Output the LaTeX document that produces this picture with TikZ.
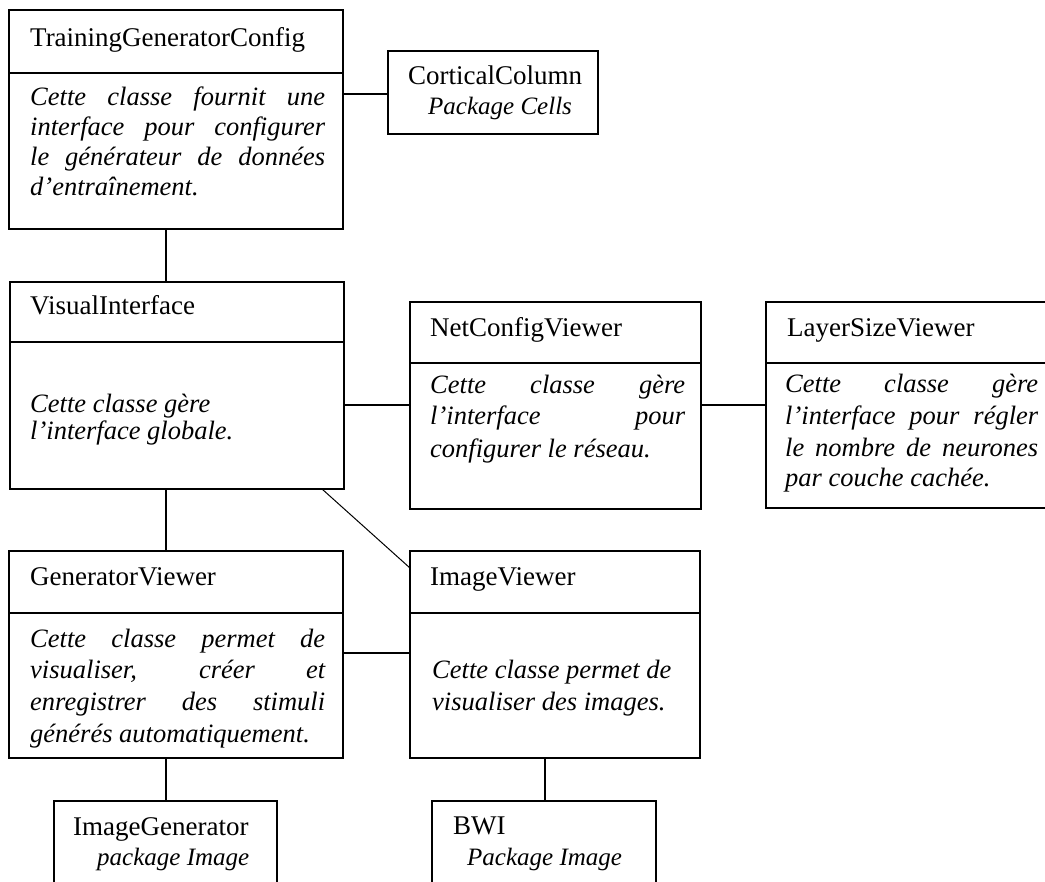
\documentclass[tikz,border=0pt]{standalone}
\usepackage{fontspec}
\setmainfont{Liberation Serif}
\newcommand\jl[2]{\makebox[#1][s]{#2}}
\begin{document}
\begin{tikzpicture}[x={(1pt,0)},y={(0,-1pt)},
 box/.style={draw, line width=1.6pt, inner sep=0, outer sep=0, anchor=north west},
 divider/.style={line width=1.6pt},
 conn/.style={line width=1.3pt},
 thin conn/.style={line width=1pt},
 title/.style={anchor=base west, inner sep=0, font=\fontsize{27}{30}\selectfont},
 body/.style={anchor=base west, inner sep=0, font=\fontsize{26.5}{30}\selectfont\itshape},
 pkg/.style={anchor=base west, inner sep=0, font=\fontsize{25}{30}\selectfont\itshape}]
\useasboundingbox[fill=white] (0,0) rectangle (1045,882);
\clip (0,0) rectangle (1045,882);

% class boxes
\node[box, minimum width=334, minimum height=219] (tgc) at (9,10) {};
\node[box, minimum width=210, minimum height=83] (cc) at (388,51) {};
\node[box, minimum width=334, minimum height=207] (vi) at (10,282) {};
\node[box, minimum width=291, minimum height=207] (ncv) at (410,302) {};
\node[box, minimum width=290, minimum height=206] (lsv) at (766,302) {};
\node[box, minimum width=334, minimum height=207] (gv) at (9,551) {};
\node[box, minimum width=290, minimum height=207] (iv) at (410,551) {};
\node[box, minimum width=223, minimum height=100] (ig) at (54,801) {};
\node[box, minimum width=224, minimum height=100] (bwi) at (432,801) {};

% dividers
\draw[divider] ([yshift=-63pt]tgc.north west) -- ([yshift=-63pt]tgc.north east);
\draw[divider] ([yshift=-60pt]vi.north west) -- ([yshift=-60pt]vi.north east);
\draw[divider] ([yshift=-61pt]ncv.north west) -- ([yshift=-61pt]ncv.north east);
\draw[divider] ([yshift=-61pt]lsv.north west) -- ([yshift=-61pt]lsv.north east);
\draw[divider] ([yshift=-62pt]gv.north west) -- ([yshift=-62pt]gv.north east);
\draw[divider] ([yshift=-62pt]iv.north west) -- ([yshift=-62pt]iv.north east);

% connectors
\path (tgc.north east) ++(0,84) coordinate (a1);
\draw[conn] (a1) -- (a1 -| cc.west);
\path (tgc.south west) ++(157,0) coordinate (a2);
\draw[conn] (a2) -- (a2 |- vi.north);
\path (vi.north east) ++(0,123) coordinate (a3);
\draw[conn] (a3) -- (a3 -| ncv.west);
\path (ncv.north east) ++(0,103) coordinate (a4);
\draw[conn] (a4) -- (a4 -| lsv.west);
\path (vi.south west) ++(156,0) coordinate (a5);
\draw[conn] (a5) -- (a5 |- gv.north);
\path (vi.south west) ++(312,0) coordinate (a6);
\path (iv.north west) ++(0,17) coordinate (b6);
\draw[thin conn] (a6) -- (b6);
\path (gv.north east) ++(0,102) coordinate (a7);
\draw[conn] (a7) -- (a7 -| iv.west);
\path (gv.south west) ++(157,0) coordinate (a8);
\draw[conn] (a8) -- (a8 |- ig.north);
\path (iv.south west) ++(135,0) coordinate (a9);
\draw[conn] (a9) -- (a9 |- bwi.north);

% titles
\node[title] (t-tgc) at (30,47) {TrainingGeneratorConfig};
\node[title] (t-cc) at (408,85) {CorticalColumn};
\node[pkg] (p-cc) at (428,115) {Package Cells};
\node[title] (t-vi) at (30,315) {VisualInterface};
\node[title] (t-ncv) at (430,337) {NetConfigViewer};
\node[title] (t-lsv) at (787,337) {LayerSizeViewer};
\node[title] (t-gv) at (30,585) {GeneratorViewer};
\node[title] (t-iv) at (430,585) {ImageViewer};
\node[title] (t-ig) at (73,835) {ImageGenerator};
\node[pkg] (p-ig) at (97,865) {package Image};
\node[title] (t-bwi) at (453,834) {BWI};
\node[pkg] (p-bwi) at (467,865) {Package Image};

% bodies
\node[body] (b-tgc1) at (30,106) {\jl{295pt}{Cette classe fournit une}};
\node[body] (b-tgc2) at (30,136) {\jl{295pt}{interface pour configurer}};
\node[body] (b-tgc3) at (30,166) {\jl{295pt}{le générateur de données}};
\node[body] (b-tgc4) at (30,196) {d’entraînement.};

\node[body] (b-vi1) at (30,413) {Cette classe gère};
\node[body] (b-vi2) at (30,440) {l’interface globale.};

\node[body] (b-ncv1) at (430,394) {\jl{255pt}{Cette classe gère}};
\node[body] (b-ncv2) at (430,425) {\jl{255pt}{l’interface pour}};
\node[body] (b-ncv3) at (430,458) {configurer le réseau.};

\node[body] (b-lsv1) at (785,393) {\jl{253pt}{Cette classe gère}};
\node[body] (b-lsv2) at (785,425) {\jl{253pt}{l’interface pour régler}};
\node[body] (b-lsv3) at (785,457) {\jl{253pt}{le nombre de neurones}};
\node[body] (b-lsv4) at (785,487) {par couche cachée.};

\node[body] (b-gv1) at (30,647) {\jl{295pt}{Cette classe permet de}};
\node[body] (b-gv2) at (30,678) {\jl{295pt}{visualiser, créer et}};
\node[body] (b-gv3) at (30,710) {\jl{295pt}{enregistrer des stimuli}};
\node[body] (b-gv4) at (30,742) {générés automatiquement.};

\node[body] (b-iv1) at (432,678) {Cette classe permet de};
\node[body] (b-iv2) at (432,710) {visualiser des images.};
\end{tikzpicture}
\end{document}
